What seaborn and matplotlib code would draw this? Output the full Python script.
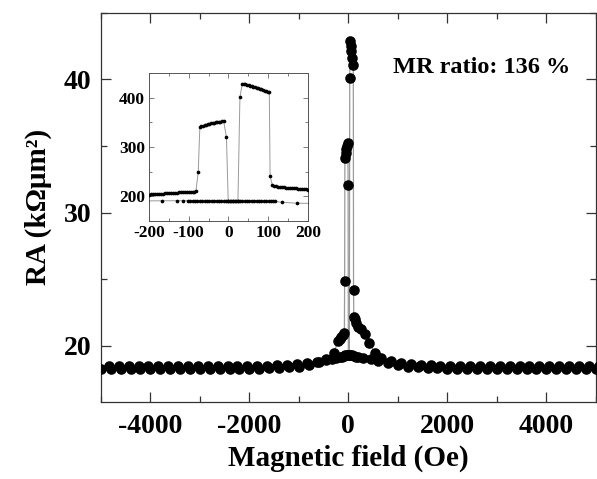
import matplotlib
matplotlib.use("Agg")
import matplotlib.pyplot as plt
from matplotlib.ticker import MultipleLocator
import seaborn as sns
import pandas as pd

# ---------------- main panel data (kOhm um^2) ----------------
# sweep with increasing field
field_up = [-5000, -4800, -4600, -4400, -4200, -4000, -3800, -3600, -3400, -3200,
            -3000, -2800, -2600, -2400, -2200, -2000, -1800, -1600, -1400, -1200,
            -1000, -800, -600, -450, -300, -200, -170, -140, -110, -80,
            -75, -70, -55, -40, -25, -10, -5, 0, 40, 80,
            120, 160, 200, 300, 450, 600, 800, 1000, 1200, 1400,
            1600, 1800, 2000, 2200, 2400, 2600, 2800, 3000, 3200, 3400,
            3600, 3800, 4000, 4200, 4400, 4600, 4800, 5000]
ra_up = [18.28, 18.28, 18.28, 18.28, 18.28, 18.28, 18.28, 18.28, 18.28, 18.28,
         18.28, 18.28, 18.28, 18.28, 18.28, 18.3, 18.3, 18.32, 18.35, 18.4,
         18.45, 18.6, 18.8, 19.05, 19.5, 20.35, 20.5, 20.65, 20.8, 21.0,
         24.9, 34.1, 34.5, 34.8, 35.0, 35.25, 32.1, 19.3, 19.3, 19.3,
         19.25, 19.2, 19.15, 19.1, 19.0, 18.85, 18.7, 18.55, 18.45, 18.4,
         18.35, 18.32, 18.3, 18.28, 18.28, 18.28, 18.28, 18.28, 18.28, 18.28,
         18.28, 18.28, 18.28, 18.28, 18.28, 18.28, 18.28, 18.28]
# sweep with decreasing field
field_dn = [5060, 4860, 4660, 4460, 4260, 4060, 3860, 3660, 3460, 3260,
            3060, 2860, 2660, 2460, 2260, 2060, 1860, 1660, 1460, 1260,
            1060, 860, 660, 540, 420, 330, 260, 200, 160, 130,
            110, 105, 100, 80, 60, 45, 35, 28, 20, 0,
            -30, -60, -90, -130, -170, -240, -340, -460, -640, -840,
            -1040, -1240, -1440, -1640, -1840, -2040, -2240, -2440, -2640, -2840,
            -3040, -3240, -3440, -3640, -3840, -4040, -4240, -4440, -4640, -4840]
ra_dn = [18.52, 18.52, 18.52, 18.52, 18.52, 18.52, 18.52, 18.52, 18.52, 18.52,
         18.52, 18.52, 18.52, 18.52, 18.52, 18.52, 18.52, 18.55, 18.58, 18.62,
         18.7, 18.85, 19.1, 19.5, 20.2, 20.9, 21.25, 21.45, 21.75, 22.0,
         22.2, 24.2, 41.1, 41.6, 42.1, 42.5, 42.85, 40.1, 19.3, 19.3,
         19.3, 19.3, 19.25, 19.2, 19.15, 19.1, 19.05, 18.95, 18.8, 18.7,
         18.62, 18.58, 18.55, 18.52, 18.52, 18.52, 18.52, 18.52, 18.52, 18.52,
         18.52, 18.52, 18.52, 18.52, 18.52, 18.52, 18.52, 18.52, 18.52, 18.52]

# ---------------- inset data (Ohm) ----------------
in_field_up = [-200, -195, -190, -185, -180, -175, -170, -165, -160, -155,
               -150, -145, -140, -135, -130, -125, -120, -115, -110, -105,
               -100, -95, -90, -86, -82, -76,
               -72, -68, -64, -60, -56, -52, -48, -44, -40, -36,
               -32, -28, -24, -20, -16, -12, -5, -0.5,
               5, 11, 17, 23, 29, 35, 41, 47, 53, 59,
               65, 71, 77, 83, 89, 95, 101, 107, 113, 117,
               135, 174, 205]
in_res_up = [203.5, 203.8, 204.1, 204.4, 204.7, 205.0, 205.3, 205.6, 205.9, 206.2,
             206.5, 206.8, 207.0, 207.3, 207.6, 207.8, 208.1, 208.3, 208.6, 208.8,
             209.1, 209.3, 209.6, 209.8, 210.1, 249.0,
             340.0, 341.6, 343.0, 344.2, 345.3, 346.3, 347.2, 348.0, 348.7, 349.4,
             350.0, 350.6, 351.1, 351.5, 351.9, 352.3, 320.0, 191.5,
             191.4, 191.4, 191.4, 191.4, 191.4, 191.4, 191.3, 191.3, 191.3, 191.2,
             191.2, 191.1, 191.0, 190.9, 190.8, 190.6, 190.4, 190.2, 190.0, 189.8,
             188.0, 186.0, 185.8]
in_field_dn = [205, 201, 196, 191, 186, 181, 176, 171, 166, 161,
               156, 151, 146, 141, 136, 131, 126, 121, 116, 111,
               105, 103, 99, 95, 91, 87, 83, 79, 75, 71,
               67, 63, 59, 55, 51, 47, 43, 39, 35, 29,
               24, 18, 12, 6, 0, -6, -12, -18, -24, -30,
               -36, -42, -48, -54, -60, -66, -72, -78, -84, -90,
               -97, -103, -114, -130, -166.5, -205]
in_res_dn = [213.4, 213.6, 213.9, 214.3, 214.7, 215.1, 215.5, 215.9, 216.3, 216.7,
             217.1, 217.5, 217.9, 218.3, 218.7, 219.2, 219.8, 220.5, 221.2, 222.0,
             240.6, 411.0, 412.2, 413.3, 414.4, 415.5, 416.6, 417.7, 418.8, 419.8,
             420.8, 421.8, 422.8, 423.8, 424.8, 425.8, 426.7, 427.6, 428.5, 401.0,
             191.5, 191.4, 191.4, 191.4, 191.4, 191.4, 191.4, 191.4, 191.4, 191.4,
             191.3, 191.3, 191.3, 191.3, 191.3, 191.3, 191.3, 191.3, 191.3, 191.3,
             191.3, 191.3, 191.2, 191.1, 191.0, 190.8]

mr_text = "MR ratio: 136 %"
x_label = "Magnetic field (Oe)"
y_label = "RA (k\u03a9\u03bcm\u00b2)"

# ---------------- style ----------------
sns.set_style("ticks")
plt.rcParams["font.family"] = ["Liberation Serif", "DejaVu Serif"]
plt.rcParams["font.weight"] = "bold"
plt.rcParams["axes.unicode_minus"] = False
plt.rcParams["text.color"] = "black"
plt.rcParams["axes.labelcolor"] = "black"
plt.rcParams["xtick.color"] = "black"
plt.rcParams["ytick.color"] = "black"

LINE_C = "#9a9a9a"
SPINE_C = "#333333"

fig = plt.figure(figsize=(5.97, 4.79), dpi=100)
ax = fig.add_axes([0.169, 0.161, 0.829, 0.8125])

df_up = pd.DataFrame({"H": field_up, "RA": ra_up})
df_dn = pd.DataFrame({"H": field_dn, "RA": ra_dn})
for d in (df_up, df_dn):
    sns.lineplot(data=d, x="H", y="RA", sort=False, estimator=None, ax=ax,
                 color=LINE_C, linewidth=0.9, zorder=1)
for d in (df_up, df_dn):
    sns.scatterplot(data=d, x="H", y="RA", ax=ax, color="black", s=58,
                    linewidth=0, zorder=3)

ax.set_xlim(-5000, 5000)
ax.set_ylim(15.8, 45)
ax.xaxis.set_major_locator(MultipleLocator(2000))
ax.xaxis.set_minor_locator(MultipleLocator(1000))
ax.yaxis.set_major_locator(MultipleLocator(10))
ax.yaxis.set_minor_locator(MultipleLocator(5))
ax.tick_params(which="both", direction="in", top=True, right=True,
               color=SPINE_C, width=0.9, labelcolor="black")
ax.tick_params(which="major", length=7, labelsize=20)
ax.tick_params(axis="x", which="major", pad=9)
ax.tick_params(axis="y", which="major", pad=7)
ax.tick_params(which="minor", length=4)
for s in ax.spines.values():
    s.set_color(SPINE_C)
    s.set_linewidth(0.9)
for lab in ax.get_xticklabels() + ax.get_yticklabels():
    lab.set_fontweight("bold")
ax.set_xlabel(x_label, fontsize=21, fontweight="bold", labelpad=4, color="black")
ax.set_ylabel(y_label, fontsize=21, fontweight="bold", labelpad=8, color="black")
ax.text(0.590, 0.86, mr_text, transform=ax.transAxes, fontsize=17.5,
        fontweight="bold", ha="left", va="center", color="black")

# ---------------- inset ----------------
axi = fig.add_axes([0.2496, 0.5386, 0.266, 0.309])
di_up = pd.DataFrame({"H": in_field_up, "R": in_res_up})
di_dn = pd.DataFrame({"H": in_field_dn, "R": in_res_dn})
for d in (di_up, di_dn):
    sns.lineplot(data=d, x="H", y="R", sort=False, estimator=None, ax=axi,
                 color=LINE_C, linewidth=0.7, zorder=1)
for d in (di_up, di_dn):
    sns.scatterplot(data=d, x="H", y="R", ax=axi, color="black", s=7,
                    linewidth=0, zorder=3)
axi.set_xlim(-200, 200)
axi.set_ylim(150, 450)
axi.xaxis.set_major_locator(MultipleLocator(100))
axi.xaxis.set_minor_locator(MultipleLocator(50))
axi.yaxis.set_major_locator(MultipleLocator(100))
axi.yaxis.set_minor_locator(MultipleLocator(50))
axi.tick_params(which="both", direction="in", top=True, right=True,
                color="#666666", width=0.6, labelcolor="black")
axi.tick_params(which="major", length=3.5, labelsize=12.5, pad=3)
axi.tick_params(which="minor", length=2)
for s in axi.spines.values():
    s.set_color("#555555")
    s.set_linewidth(0.7)
for lab in axi.get_xticklabels() + axi.get_yticklabels():
    lab.set_fontweight("bold")
axi.set_xlabel("")
axi.set_ylabel("")

fig.savefig("out.png", dpi=100)
